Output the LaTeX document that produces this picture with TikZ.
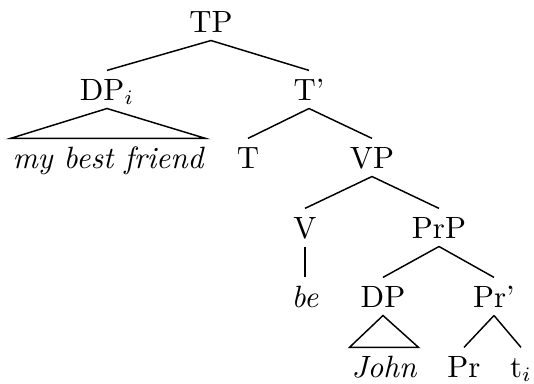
\documentclass[tikz,border=0pt]{standalone}
\begin{document}
\begin{tikzpicture}[x=0.341pt,y=-0.341pt,
  lab/.style={anchor=base,inner xsep=0.5pt,inner ysep=2.7pt,text height=7.2pt,text depth=0pt,
    font=\fontsize{10.5pt}{12pt}\selectfont},
  edge/.style={line width=0.5pt}]
\useasboundingbox (0,0) rectangle (534,383);
\node[lab] (TP) at (211,32) {TP};
\node[lab] (DPi) at (107,100) {DP$_i$};
\node[lab] (Tb) at (309,100) {T'};
\node[lab] (mbf) at (108,168) {\itshape my best friend};
\node[lab] (T) at (248,168) {T};
\node[lab] (VP) at (372,168) {VP};
\node[lab] (V) at (305,238) {V};
\node[lab] (PrP) at (439,238) {PrP};
\node[lab] (be) at (305,307) {\itshape be};
\node[lab] (DP) at (383,307) {DP};
\node[lab] (Prb) at (494,307) {Pr'};
\node[lab] (John) at (384,377) {\itshape John};
\node[lab] (Pr) at (464,377) {Pr};
\node[lab] (ti) at (521,377) {t$_i$};
\draw[edge] (TP.south) -- (DPi.north);
\draw[edge] (TP.south) -- (Tb.north);
\draw[edge] (DPi.south) -- (mbf.north west) -- (mbf.north east) -- cycle;
\draw[edge] (Tb.south) -- (T.north);
\draw[edge] (Tb.south) -- (VP.north);
\draw[edge] (VP.south) -- (V.north);
\draw[edge] (VP.south) -- (PrP.north);
\draw[edge] (V.south) -- (be.north);
\draw[edge] (PrP.south) -- (DP.north);
\draw[edge] (PrP.south) -- (Prb.north);
\draw[edge] (DP.south) -- (John.north west) -- (John.north east) -- cycle;
\draw[edge] (Prb.south) -- (Pr.north);
\draw[edge] (Prb.south) -- (ti.north);
\end{tikzpicture}
\end{document}
